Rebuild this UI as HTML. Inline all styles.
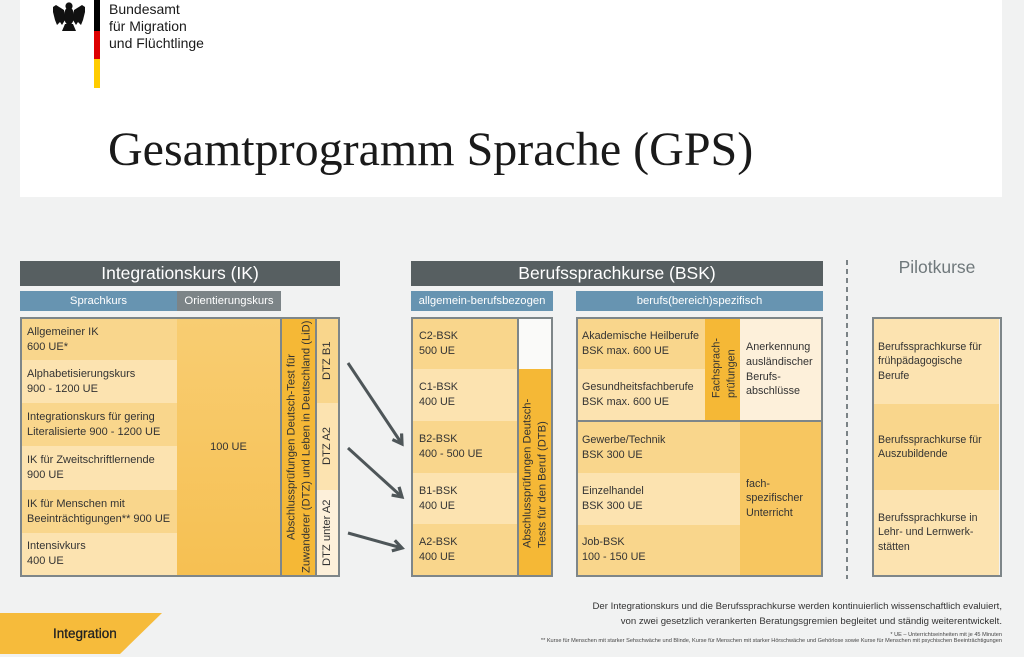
<!DOCTYPE html>
<html><head><meta charset="utf-8">
<style>
*{margin:0;padding:0;box-sizing:border-box}
html,body{width:1024px;height:657px;overflow:hidden;background:#f1f2f2;font-family:"Liberation Sans",sans-serif;color:#333}
.a{position:absolute}
.row{position:absolute;display:flex;align-items:center;white-space:nowrap;color:#333}
.ik{font-size:11px;line-height:15px;padding-left:5px}
.bk{font-size:10.8px;line-height:15px}
.pl{font-size:10.6px;line-height:14.5px;padding-left:4px}
.d{background:#f9d68c}
.l{background:#fce3b0}
.c{background:#fdf0da}
.o{background:#f5b836}
.m{background:#f7c762}
.bar{position:absolute;background:#575f61;color:#fff;font-size:17.5px;display:flex;align-items:center;justify-content:center;white-space:nowrap}
.sub{position:absolute;color:#fff;font-size:11.3px;display:flex;align-items:center;justify-content:center;white-space:nowrap}
.blue{background:#6794b1}
.gr{background:#7c8487}
.bd{position:absolute;border:2px solid #7e8689}
.ln{position:absolute;background:#7e8689}
.v{position:absolute;writing-mode:vertical-rl;transform:rotate(180deg);white-space:nowrap;color:#333;font-size:11.2px;line-height:15px}
</style></head><body>

<!-- white header panel -->
<div class="a" style="left:20px;top:0;width:982px;height:197px;background:#fff"></div>

<!-- eagle -->
<svg class="a" style="left:0;top:0" width="110" height="90" viewBox="0 0 110 90">
  <g fill="#111">
    <circle cx="69" cy="6" r="3.6"/>
    <ellipse cx="69" cy="16" rx="5" ry="9"/>
    <path d="M64,10 L56,5 L53,7 L53,12 L54,16 L55,20 L57,25 L60,22 L62,25 L65,20 Z"/>
    <path d="M74,10 L82,5 L85,7 L85,12 L84,16 L83,20 L81,25 L78,22 L76,25 L73,20 Z"/>
    <path d="M65,24 L73,24 L76,31 L62,31 Z"/>
  </g>
  <rect x="94" y="0" width="6" height="31" fill="#000"/>
  <rect x="94" y="31" width="6" height="28" fill="#dd0000"/>
  <rect x="94" y="59" width="6" height="29" fill="#ffcc00"/>
</svg>
<div class="a" style="left:109px;top:1px;font-size:14px;line-height:17px;color:#1a1a1a;white-space:nowrap">Bundesamt<br>für Migration<br>und Flüchtlinge</div>

<div class="a" style="left:108px;top:126px;font-family:'Liberation Serif',serif;font-size:48px;line-height:48px;color:#1a1a1a;white-space:nowrap">Gesamtprogramm Sprache (GPS)</div>

<!-- ===== IK ===== -->
<div class="bar" style="left:20px;top:261px;width:320px;height:25px">Integrationskurs (IK)</div>
<div class="sub blue" style="left:20px;top:291px;width:157px;height:20px">Sprachkurs</div>
<div class="sub gr" style="left:177px;top:291px;width:104px;height:20px">Orientierungskurs</div>

<div class="row ik d" style="left:22px;top:319px;width:155px;height:41px">Allgemeiner IK<br>600 UE*</div>
<div class="row ik l" style="left:22px;top:360px;width:155px;height:43px">Alphabetisierungskurs<br>900 - 1200 UE</div>
<div class="row ik d" style="left:22px;top:403px;width:155px;height:43px">Integrationskurs für gering<br>Literalisierte 900 - 1200 UE</div>
<div class="row ik l" style="left:22px;top:446px;width:155px;height:44px">IK für Zweitschriftlernende<br>900 UE</div>
<div class="row ik d" style="left:22px;top:490px;width:155px;height:43px">IK für Menschen mit<br>Beeinträchtigungen** 900 UE</div>
<div class="row ik l" style="left:22px;top:533px;width:155px;height:42px">Intensivkurs<br>400 UE</div>

<div class="row" style="left:177px;top:319px;width:103px;height:256px;background:linear-gradient(180deg,#f8cd72,#f6c052);justify-content:center;font-size:11px">100 UE</div>

<div class="v o" style="left:282px;top:319px;width:33px;height:256px;padding-right:2.5px;text-align:center">Abschlussprüfungen Deutsch-Test für<br>Zuwanderer (DTZ) und Leben in Deutschland (LiD)</div>

<div class="v d" style="left:317px;top:319px;width:21px;height:84px;line-height:21px;text-align:center">DTZ B1</div>
<div class="v l" style="left:317px;top:403px;width:21px;height:87px;line-height:21px;text-align:center">DTZ A2</div>
<div class="v c" style="left:317px;top:490px;width:21px;height:85px;line-height:21px;text-align:center">DTZ unter A2</div>

<div class="ln" style="left:280px;top:319px;width:2px;height:256px"></div>
<div class="ln" style="left:315px;top:319px;width:2px;height:256px"></div>
<div class="bd" style="left:20px;top:317px;width:320px;height:260px"></div>

<!-- arrows -->
<svg class="a" style="left:0;top:0" width="1024" height="657">
  <defs>
    <marker id="ah" markerUnits="userSpaceOnUse" markerWidth="14" markerHeight="14" viewBox="0 0 14 14" refX="11" refY="7" orient="auto">
      <path d="M2,1.5 L11,7 L2,12.5" fill="none" stroke="#4e5659" stroke-width="3.2" stroke-linejoin="miter"/>
    </marker>
  </defs>
  <g stroke="#4e5659" stroke-width="3" fill="none">
    <line x1="348" y1="363" x2="402" y2="444" marker-end="url(#ah)"/>
    <line x1="348" y1="448" x2="402" y2="497" marker-end="url(#ah)"/>
    <line x1="348" y1="533" x2="402" y2="548" marker-end="url(#ah)"/>
  </g>
  <line x1="847" y1="260" x2="847" y2="579" stroke="#7b8386" stroke-width="2" stroke-dasharray="5,4"/>
  <polygon points="0,613 162,613 120,654 0,654" fill="#f6bb3b"/>
</svg>

<!-- ===== BSK ===== -->
<div class="bar" style="left:411px;top:261px;width:412px;height:25px">Berufssprachkurse (BSK)</div>
<div class="sub blue" style="left:411px;top:291px;width:142px;height:20px">allgemein-berufsbezogen</div>
<div class="sub blue" style="left:576px;top:291px;width:247px;height:20px">berufs(bereich)spezifisch</div>

<!-- allgemein box -->
<div class="row bk d" style="left:413px;top:319px;width:105px;height:50px;padding-left:6px">C2-BSK<br>500 UE</div>
<div class="row bk l" style="left:413px;top:369px;width:105px;height:52px;padding-left:6px">C1-BSK<br>400 UE</div>
<div class="row bk d" style="left:413px;top:421px;width:105px;height:52px;padding-left:6px">B2-BSK<br>400 - 500 UE</div>
<div class="row bk l" style="left:413px;top:473px;width:105px;height:51px;padding-left:6px">B1-BSK<br>400 UE</div>
<div class="row bk d" style="left:413px;top:524px;width:105px;height:51px;padding-left:6px">A2-BSK<br>400 UE</div>
<div class="a" style="left:519px;top:319px;width:32px;height:50px;background:#fafaf9"></div>
<div class="v o" style="left:519px;top:369px;width:32px;height:206px;padding-right:1.5px;padding-top:27px;text-align:left">Abschlussprüfungen Deutsch-<br>Tests für den Beruf (DTB)</div>
<div class="ln" style="left:517px;top:319px;width:2px;height:256px"></div>
<div class="bd" style="left:411px;top:317px;width:142px;height:260px"></div>

<!-- spezifisch box -->
<div class="row bk d" style="left:578px;top:319px;width:127px;height:50px;padding-left:4px">Akademische Heilberufe<br>BSK max. 600 UE</div>
<div class="row bk l" style="left:578px;top:369px;width:127px;height:51px;padding-left:4px">Gesundheitsfachberufe<br>BSK max. 600 UE</div>
<div class="v o" style="left:705px;top:319px;width:35px;height:101px;padding-right:4.5px;padding-top:22px;text-align:left;font-size:10.8px">Fachsprach-<br>prüfungen</div>
<div class="row bk c" style="left:740px;top:319px;width:81px;height:101px;padding-left:6px;line-height:14.7px">Anerkennung<br>ausländischer<br>Berufs-<br>abschlüsse</div>

<div class="row bk d" style="left:578px;top:422px;width:162px;height:51px;padding-left:4px">Gewerbe/Technik<br>BSK 300 UE</div>
<div class="row bk l" style="left:578px;top:473px;width:162px;height:52px;padding-left:4px">Einzelhandel<br>BSK 300 UE</div>
<div class="row bk d" style="left:578px;top:525px;width:162px;height:50px;padding-left:4px">Job-BSK<br>100 - 150 UE</div>
<div class="row bk" style="left:740px;top:422px;width:81px;height:153px;padding-left:6px;background:#f7c660;line-height:14.5px">fach-<br>spezifischer<br>Unterricht</div>
<div class="ln" style="left:578px;top:420px;width:243px;height:2px"></div>
<div class="bd" style="left:576px;top:317px;width:247px;height:260px"></div>

<!-- ===== Pilot ===== -->
<div class="a" style="left:872px;top:256px;width:130px;height:22px;font-size:17.5px;line-height:22px;color:#6f787b;text-align:center">Pilotkurse</div>
<div class="row pl l" style="left:874px;top:319px;width:125px;height:85px">Berufssprachkurse für<br>frühpädagogische<br>Berufe</div>
<div class="row pl d" style="left:874px;top:404px;width:125px;height:86px">Berufssprachkurse für<br>Auszubildende</div>
<div class="row pl l" style="left:874px;top:490px;width:125px;height:85px">Berufssprachkurse in<br>Lehr- und Lernwerk-<br>stätten</div>
<div class="bd" style="left:872px;top:317px;width:130px;height:260px"></div>

<!-- bottom -->
<div class="a" style="left:53px;top:625px;font-size:13.5px;line-height:18px;color:#222;-webkit-text-stroke:0.3px #222;white-space:nowrap">Integration</div>
<div class="a" style="right:22px;top:598.5px;font-size:9.6px;line-height:15px;color:#333;text-align:right;white-space:nowrap">Der Integrationskurs und die Berufssprachkurse werden kontinuierlich wissenschaftlich evaluiert,<br>von zwei gesetzlich verankerten Beratungsgremien begleitet und ständig weiterentwickelt.</div>
<div class="a" style="right:22px;top:631.5px;font-size:5.6px;line-height:6.4px;color:#444;text-align:right;white-space:nowrap">* UE – Unterrichtseinheiten mit je 45 Minuten<br>** Kurse für Menschen mit starker Sehschwäche und Blinde, Kurse für Menschen mit starker Hörschwäche und Gehörlose sowie Kurse für Menschen mit psychischen Beeinträchtigungen</div>

</body></html>
